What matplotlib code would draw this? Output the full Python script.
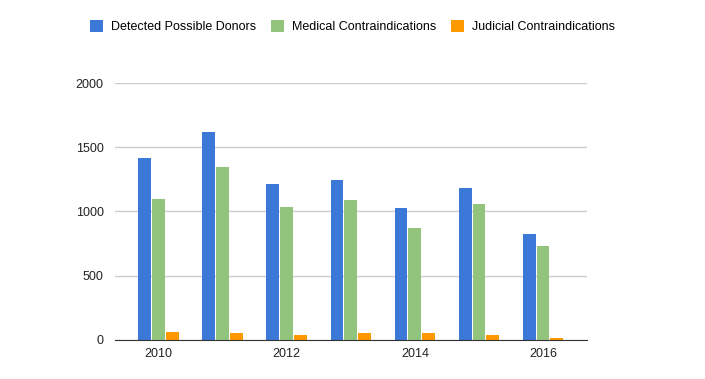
import matplotlib.pyplot as plt
import numpy as np

plt.rcParams['font.family'] = ['Liberation Sans', 'DejaVu Sans']

years = [2010, 2011, 2012, 2013, 2014, 2015, 2016]
detected = [1415, 1618, 1214, 1248, 1024, 1180, 821]
medical = [1095, 1343, 1035, 1092, 875, 1055, 735]
judicial = [62, 54, 39, 57, 57, 36, 18]

labels = ['Detected Possible Donors', 'Medical Contraindications', 'Judicial Contraindications']
colors = ['#3c78d8', '#93c47d', '#ff9900']

fig = plt.figure(figsize=(7.05, 3.79), dpi=100)
ax = fig.add_axes([0.163, 0.103, 0.67, 0.678])

x = np.array(years)
w = 0.2
step = 0.215
for i, (vals, c, lab) in enumerate(zip([detected, medical, judicial], colors, labels)):
    ax.bar(x + (i - 1) * step, vals, width=w, color=c, label=lab, zorder=3)

ax.set_xlim(2009.32, 2016.69)
ax.set_ylim(0, 2000)
ax.set_yticks([0, 500, 1000, 1500, 2000])
ax.set_xticks([2010, 2012, 2014, 2016])
ax.grid(axis='y', color='#cccccc', linewidth=1, zorder=0)
for s in ['top', 'right', 'left']:
    ax.spines[s].set_visible(False)
ax.spines['bottom'].set_color('#333333')
ax.spines['bottom'].set_zorder(4)
ax.tick_params(length=0, labelsize=9, colors='#222222', pad=6)
ax.tick_params(axis='y', pad=8)

h, l = ax.get_legend_handles_labels()
fig.legend(h, l, loc='center', bbox_to_anchor=(0.5, 0.929), ncol=3, frameon=False,
           fontsize=9, handlelength=1.0, handleheight=1.0, columnspacing=1.2, handletextpad=0.65)

fig.savefig('out.png', dpi=100)
